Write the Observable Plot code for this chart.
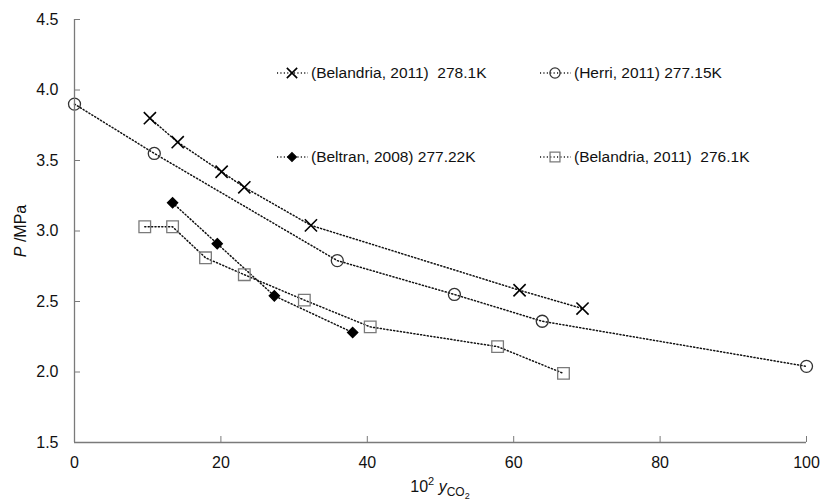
<!DOCTYPE html>
<html><head><meta charset="utf-8">
<script src="https://cdn.jsdelivr.net/npm/d3@7"></script>
<script src="https://cdn.jsdelivr.net/npm/@observablehq/plot@0.6"></script>
<style>body{margin:0;background:#fff} svg{font-family:"Liberation Sans",Arial,sans-serif}</style>
</head><body><div id="chart"></div>
<script>
// ---- data ----
const seriesNames = ["(Belandria, 2011)  278.1K", "(Herri, 2011) 277.15K", "(Beltran, 2008) 277.22K", "(Belandria, 2011)  276.1K"];
const bel278X = [10.3, 14.1, 20.1, 23.2, 32.3, 60.8, 69.4];
const bel278P = [3.80, 3.63, 3.42, 3.31, 3.04, 2.58, 2.45];
const herriX = [0, 10.9, 35.9, 51.9, 63.9, 100];
const herriP = [3.90, 3.55, 2.79, 2.55, 2.36, 2.04];
const beltranX = [13.4, 19.5, 27.3, 38.0];
const beltranP = [3.20, 2.91, 2.54, 2.28];
const bel276X = [9.6, 13.4, 17.9, 23.2, 31.4, 40.4, 57.8, 66.8];
const bel276P = [3.03, 3.03, 2.81, 2.69, 2.51, 2.32, 2.18, 1.99];
const xTicks = [0, 20, 40, 60, 80, 100];
const yTicks = [1.5, 2.0, 2.5, 3.0, 3.5, 4.0, 4.5];

const seriesX = [bel278X, herriX, beltranX, bel276X];
const seriesP = [bel278P, herriP, beltranP, bel276P];
const symbols = ["times", "circle", "diamond2", "square2"];
const symR = [5.6, 6, 4.6, 7.4];
const fills = ["none", "none", "black", "none"];
const strokes = ["black", "#333", "black", "#7a7a7a"];

const rows = [];
seriesNames.forEach((s, i) => seriesX[i].forEach((x, j) => rows.push({series: s, x, p: seriesP[i][j]})));

const W = 822, H = 501, mL = 74, mR = 16, mT = 19, mB = 59;
const innerW = W - mL - mR, innerH = H - mT - mB;
const dash = "1.1,2.3";
const axisColor = "#7a7a7a";

const marks = [
  Plot.line(rows, {x: "x", y: "p", z: "series", stroke: "#111", strokeWidth: 1.5, strokeDasharray: dash}),
  ...seriesNames.map((s, i) => Plot.dot(rows.filter(d => d.series === s), {
    x: "x", y: "p", symbol: () => symbols[i], r: symR[i], fill: fills[i],
    stroke: strokes[i], strokeWidth: i === 0 ? 1.6 : 1.3
  })),
  Plot.ruleX([0], {stroke: axisColor, strokeWidth: 1.3}),
  Plot.ruleY([1.5], {stroke: axisColor, strokeWidth: 1.3}),
  Plot.tickX(xTicks, {x: d => d, insetTop: innerH - 6, stroke: axisColor}),
  Plot.tickY(yTicks, {y: d => d, insetRight: innerW - 6, stroke: axisColor}),
  Plot.axisX({ticks: xTicks, tickSize: 0, tickPadding: 14, fontSize: 16, label: null}),
  Plot.axisY({ticks: yTicks, tickSize: 0, tickPadding: 16, fontSize: 16, label: null, tickFormat: d3.format(".1f")})
];

const chart = Plot.plot({
  width: W, height: H,
  marginLeft: mL, marginRight: mR, marginTop: mT, marginBottom: mB,
  x: {domain: [0, 100]},
  y: {domain: [1.5, 4.5]},
  style: {fontFamily: '"Liberation Sans", Arial, sans-serif', color: "#111", background: "#fff"},
  marks
});
document.getElementById("chart").appendChild(chart);

const svg = d3.select(chart);
// x title
const xt = svg.append("text").attr("x", mL + innerW / 2).attr("y", 492).attr("text-anchor", "middle")
  .attr("font-size", 16).attr("fill", "#111");
xt.append("tspan").text("10");
xt.append("tspan").attr("font-size", 11).attr("dy", -7).text("2");
xt.append("tspan").attr("dy", 7).text(" ");
xt.append("tspan").attr("font-style", "italic").text("y");
xt.append("tspan").attr("font-size", 12).attr("dy", 4).text("CO");
xt.append("tspan").attr("font-size", 9).attr("dy", 3).text("2");
// y title
const yt = svg.append("text").attr("transform", "translate(26,231) rotate(-90)").attr("text-anchor", "middle")
  .attr("font-size", 16).attr("fill", "#111");
yt.append("tspan").attr("font-style", "italic").text("P");
yt.append("tspan").text(" /MPa");

// legend
const legendPos = [[277, 73], [540, 73], [277, 157], [540, 157]];
seriesNames.forEach((s, i) => {
  const [lx, ly] = legendPos[i];
  const g = svg.append("g").attr("text-anchor", "start");
  g.append("line").attr("x1", lx).attr("x2", lx + 31).attr("y1", ly).attr("y2", ly)
    .attr("stroke", "#111").attr("stroke-width", 1.5).attr("stroke-dasharray", dash);
  const sym = {times: d3.symbolTimes, circle: d3.symbolCircle, diamond2: d3.symbolDiamond2, square2: d3.symbolSquare2}[symbols[i]];
  const rr = symR[i] * 0.85;
  g.append("path").attr("transform", `translate(${lx + 15},${ly})`)
    .attr("d", d3.symbol(sym, Math.PI * rr * rr)())
    .attr("fill", fills[i]).attr("stroke", strokes[i]).attr("stroke-width", i === 0 ? 1.6 : 1.3);
  g.append("text").attr("x", lx + 34).attr("y", ly).attr("dy", "0.35em").attr("font-size", 15.5)
    .attr("text-anchor", "start").attr("fill", "#111").style("white-space", "pre").text(s);
});
</script></body></html>
